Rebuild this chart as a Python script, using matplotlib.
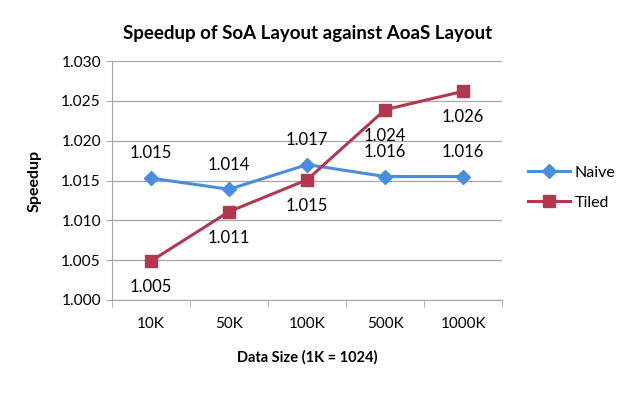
import matplotlib
matplotlib.use("Agg")
import matplotlib.pyplot as plt
import numpy as np

plt.rcParams['font.family'] = ['Lato', 'DejaVu Sans']

sizes = ["10K", "50K", "100K", "500K", "1000K"]
naive = [1.0153, 1.0139, 1.0170, 1.0155, 1.0155]
tiled = [1.0049, 1.0111, 1.0151, 1.0239, 1.0262]
naive_labels = ["1.015", "1.014", "1.017", "1.016", "1.016"]
tiled_labels = ["1.005", "1.011", "1.015", "1.024", "1.026"]

blue = '#4a8ddc'
red = '#b3384f'
grid_col = '#a6a6a6'

fig = plt.figure(figsize=(6.23, 3.94), dpi=100)
ax = fig.add_axes([0.180, 0.2386, 0.626, 0.6064])

x = np.arange(len(sizes))
ax.plot(x, naive, color=blue, lw=2.2, marker='D', ms=7, label='Naive')
ax.plot(x, tiled, color=red, lw=2.2, marker='s', ms=8, label='Tiled')

# value labels: naive above, tiled below
for xi, v, s in zip(x, naive, naive_labels):
    ax.annotate(s, (xi, v), xytext=(0, 12), textcoords='offset points',
                ha='center', va='bottom', fontsize=12)
for xi, v, s in zip(x, tiled, tiled_labels):
    ax.annotate(s, (xi, v), xytext=(0, -13), textcoords='offset points',
                ha='center', va='top', fontsize=12)

ax.set_xlim(-0.5, len(sizes) - 0.5)
ax.set_ylim(1.000, 1.030)
yt = np.arange(1.000, 1.0301, 0.005)
ax.set_yticks(yt)
ax.set_yticklabels([f"{t:.3f}" for t in yt], fontsize=11.2)
ax.set_xticks(x)
ax.set_xticklabels(sizes, fontsize=11)
ax.set_xticks(np.arange(-0.5, len(sizes)), minor=True)
ax.tick_params(axis='x', which='major', length=0, pad=12)
ax.tick_params(axis='x', which='minor', length=5, color=grid_col, direction='out')
ax.tick_params(axis='y', length=4, color=grid_col, pad=4)

ax.grid(axis='y', color=grid_col, lw=0.9)
ax.set_axisbelow(True)
for sp in ['top', 'right']:
    ax.spines[sp].set_visible(False)
ax.spines['left'].set_color(grid_col)
ax.spines['bottom'].set_color(grid_col)

ax.set_title("Speedup of SoA Layout against AoaS Layout", fontsize=13.5,
             fontweight='bold', pad=16)
ax.set_ylabel("Speedup", fontsize=11.5, fontweight='bold', labelpad=14)
ax.set_xlabel("Data Size (1K = 1024)", fontsize=10.5, fontweight='bold', labelpad=14)

ax.legend(loc='center left', bbox_to_anchor=(1.03, 0.47), frameon=False,
          fontsize=11.5, handlelength=2.6, handletextpad=0.3, labelspacing=1.0)

fig.savefig("out.png", dpi=100)
